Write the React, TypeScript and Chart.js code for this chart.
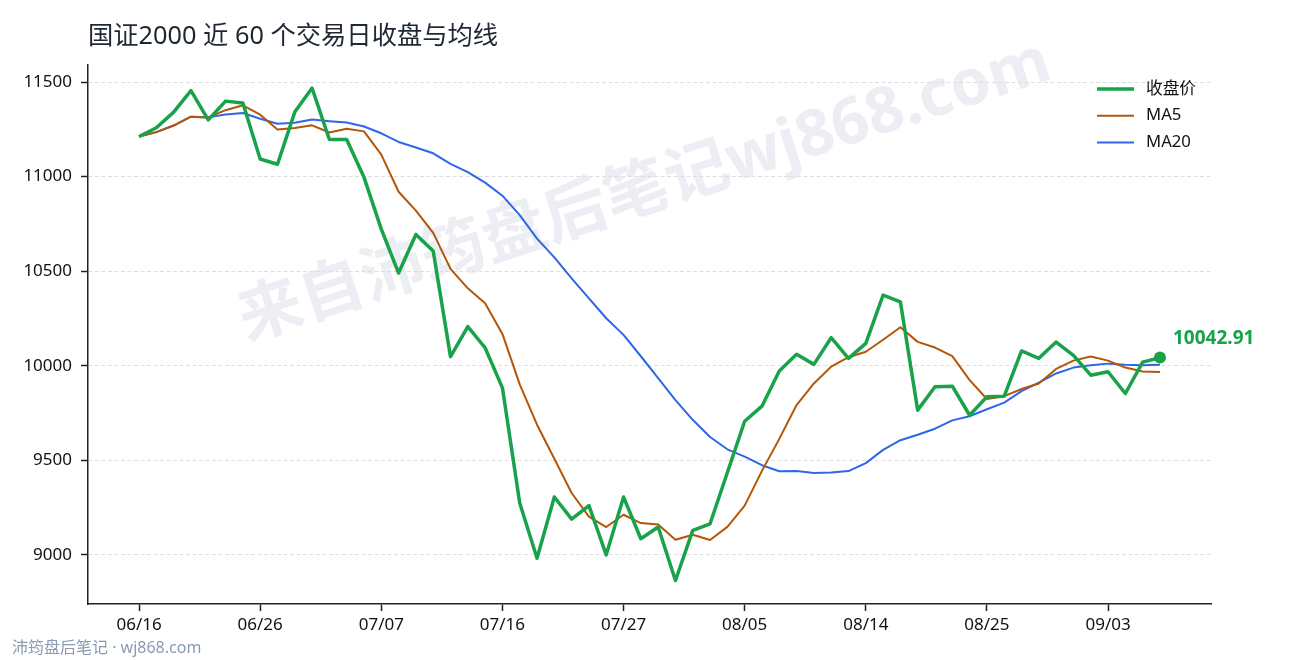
import React, { useEffect, useRef } from "react";
import { Chart, registerables } from "chart.js";

Chart.register(...registerables);

// ---------- data ----------
const dates = [
  "06/16", "06/17", "06/18", "06/22", "06/23", "06/24", "06/25", "06/26", "06/29", "06/30",
  "07/01", "07/02", "07/03", "07/06", "07/07", "07/08", "07/09", "07/10", "07/13", "07/14",
  "07/15", "07/16", "07/17", "07/20", "07/21", "07/22", "07/23", "07/24", "07/27", "07/28",
  "07/29", "07/30", "07/31", "08/03", "08/04", "08/05", "08/06", "08/07", "08/10", "08/11",
  "08/12", "08/13", "08/14", "08/17", "08/18", "08/19", "08/20", "08/21", "08/24", "08/25",
  "08/26", "08/27", "08/28", "08/31", "09/01", "09/02", "09/03", "09/04", "09/07", "09/08",
];

const closeValues = [
  11212, 11258, 11341, 11455, 11300, 11399, 11389, 11093, 11065, 11341,
  11468, 11196, 11196, 10996, 10722, 10490, 10694, 10607, 10048, 10207,
  10095, 9883, 9274, 8982, 9306, 9189, 9260, 9000, 9306, 9085,
  9147, 8864, 9129, 9164, 9435, 9706, 9786, 9972, 10060, 10007,
  10148, 10039, 10118, 10373, 10337, 9765, 9889, 9892, 9738, 9836,
  9839, 10078, 10039, 10125, 10055, 9950, 9968, 9853, 10019, 10042.91,
];

const ma5Values = [
  11212, 11235, 11270, 11317, 11313, 11351, 11377, 11327, 11249, 11257,
  11271, 11233, 11253, 11239, 11116, 10920, 10820, 10702, 10512, 10409,
  10330, 10168, 9901, 9688, 9508, 9327, 9202, 9147, 9212, 9168,
  9160, 9080, 9106, 9078, 9148, 9260, 9444, 9613, 9792, 9906,
  9995, 10045, 10074, 10137, 10203, 10126, 10096, 10051, 9924, 9824,
  9839, 9877, 9906, 9983, 10027, 10049, 10027, 9990, 9969, 9967,
];

const ma20Values = [
  11212, 11235, 11270, 11317, 11313, 11328, 11336, 11306, 11279, 11285,
  11302, 11293, 11286, 11265, 11229, 11183, 11154, 11123, 11067, 11024,
  10968, 10899, 10796, 10672, 10573, 10462, 10356, 10251, 10163, 10050,
  9934, 9818, 9714, 9623, 9558, 9519, 9474, 9442, 9443, 9433,
  9435, 9443, 9485, 9555, 9606, 9635, 9667, 9711, 9733, 9770,
  9805, 9866, 9911, 9959, 9990, 10002, 10011, 10005, 10003, 10005,
];

const yTickValues = [9000, 9500, 10000, 10500, 11000, 11500];
const xTickIndices = [0, 7, 14, 21, 28, 35, 42, 49, 56];
const seriesNames = ["收盘价", "MA5", "MA20"];
const titleText = "国证2000 近 60 个交易日收盘与均线";
const watermarkText = "来自沛筠盘后笔记wj868.com";
const footerText = "沛筠盘后笔记 · wj868.com";

// ---------- styles ----------
const FONT = '"Noto Sans", "Noto Sans CJK SC", sans-serif';
const GREEN = "#18a34a";
const BROWN = "#b4560a";
const BLUE = "#2f66e8";
const AXIS = "#222222";

const decorPlugin = {
  id: "decor",
  beforeDraw(chart: any) {
    const { ctx } = chart;
    ctx.save();
    ctx.fillStyle = "#ffffff";
    ctx.fillRect(0, 0, chart.width, chart.height);
    ctx.translate(645, 192);
    ctx.rotate((-18 * Math.PI) / 180);
    ctx.font = `bold 64px ${FONT}`;
    ctx.fillStyle = "#eceef3";
    ctx.textAlign = "center";
    ctx.textBaseline = "middle";
    ctx.fillText(watermarkText, 0, 0);
    ctx.restore();
  },
  afterDraw(chart: any) {
    const { ctx, chartArea } = chart;
    ctx.save();
    // title
    ctx.font = `25.3px ${FONT}`;
    ctx.fillStyle = "#1f2733";
    ctx.textAlign = "left";
    ctx.textBaseline = "middle";
    ctx.fillText(titleText, 88, 37);

    // footer
    ctx.font = `16px ${FONT}`;
    ctx.fillStyle = "#8a9bb3";
    ctx.fillText(footerText, 12, 648);

    // legend
    const colors = [GREEN, BROWN, BLUE];
    const widths = [3.5, 2, 2];
    const lx = chartArea.right - 114;
    ctx.font = `16.7px ${FONT}`;
    for (let i = 0; i < seriesNames.length; i++) {
      const y = 89 + i * 26.7;
      ctx.beginPath();
      ctx.strokeStyle = colors[i];
      ctx.lineWidth = widths[i];
      ctx.moveTo(lx, y);
      ctx.lineTo(lx + 37, y);
      ctx.stroke();
      ctx.fillStyle = "#111111";
      ctx.fillText(seriesNames[i], lx + 49, y);
    }

    // last value label
    const xs = chart.scales.x;
    const ys = chart.scales.y;
    const last = closeValues.length - 1;
    const px = xs.getPixelForValue(last);
    const py = ys.getPixelForValue(closeValues[last]);
    ctx.font = `bold 19px ${FONT}`;
    ctx.fillStyle = GREEN;
    ctx.fillText(closeValues[last].toFixed(2), px + 13, py - 19);
    ctx.restore();
  },
};

export default function App() {
  const canvasRef = useRef<HTMLCanvasElement | null>(null);

  useEffect(() => {
    const canvas = canvasRef.current;
    if (!canvas) return;
    const last = closeValues.length - 1;
    const toPts = (arr: number[]) => arr.map((v, i) => ({ x: i, y: v }));

    const chart = new Chart(canvas, {
      type: "line",
      data: {
        datasets: [
          {
            label: seriesNames[0],
            data: toPts(closeValues),
            borderColor: GREEN,
            backgroundColor: GREEN,
            borderWidth: 3.5,
            borderJoinStyle: "round",
            tension: 0,
            pointRadius: (c: any) => (c.dataIndex === last ? 6 : 0),
            pointBackgroundColor: GREEN,
            pointBorderWidth: 0,
            pointHoverRadius: 0,
          },
          {
            label: seriesNames[1],
            data: toPts(ma5Values),
            borderColor: BROWN,
            borderWidth: 2,
            borderJoinStyle: "round",
            tension: 0,
            pointRadius: 0,
          },
          {
            label: seriesNames[2],
            data: toPts(ma20Values),
            borderColor: BLUE,
            borderWidth: 2,
            borderJoinStyle: "round",
            tension: 0,
            pointRadius: 0,
          },
        ],
      },
      options: {
        animation: false,
        responsive: false,
        devicePixelRatio: 1,
        events: [],
        layout: { padding: { left: 0, top: 65, right: 79, bottom: 0 } },
        plugins: {
          legend: { display: false },
          title: { display: false },
          tooltip: { enabled: false },
        },
        scales: {
          x: {
            type: "linear",
            min: -2.95,
            max: 61.95,
            afterFit: (s: any) => {
              s.height = 56;
            },
            afterBuildTicks: (s: any) => {
              s.ticks = xTickIndices.map((v) => ({ value: v }));
            },
            ticks: {
              callback: (v: any) => dates[v as number],
              font: { family: FONT, size: 17 },
              color: "#111111",
              padding: 4,
              maxRotation: 0,
              autoSkip: false,
            },
            grid: {
              drawOnChartArea: false,
              drawTicks: true,
              tickLength: 7,
              tickColor: AXIS,
              tickWidth: 1.5,
            },
            border: { display: true, color: AXIS, width: 1.5 },
          },
          y: {
            type: "linear",
            min: 8740,
            max: 11590,
            afterFit: (s: any) => {
              s.width = 88;
            },
            afterBuildTicks: (s: any) => {
              s.ticks = yTickValues.map((v) => ({ value: v }));
            },
            ticks: {
              font: { family: FONT, size: 17 },
              color: "#111111",
              padding: 9,
              callback: (v: any) => String(v),
            },
            grid: {
              color: "#dedede",
              lineWidth: 1,
              drawTicks: true,
              tickLength: 7,
              tickColor: AXIS,
              tickWidth: 1.5,
              tickBorderDash: [],
            },
            border: { display: true, color: AXIS, width: 1.5, dash: [4, 2.5] },
          },
        },
      },
      plugins: [decorPlugin],
    } as any);

    return () => chart.destroy();
  }, []);

  return (
    <div style={{ position: "absolute", left: 0, top: 0, width: 1290, height: 660, background: "#fff" }}>
      <canvas ref={canvasRef} width={1290} height={660} style={{ display: "block" }} />
    </div>
  );
}
